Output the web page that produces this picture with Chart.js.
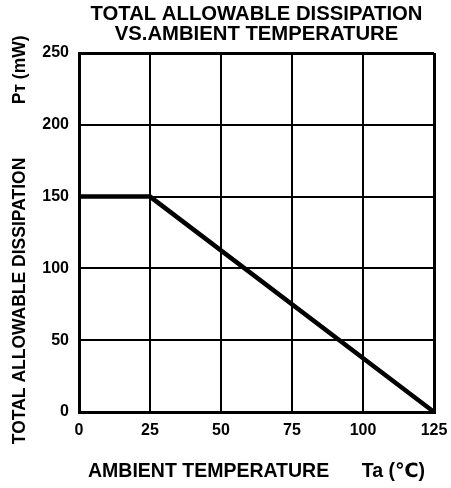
<!DOCTYPE html>
<html>
<head>
<meta charset="utf-8">
<script src="https://cdn.jsdelivr.net/npm/chart.js@4.4.1/dist/chart.umd.min.js"></script>
<style>
    html, body { margin: 0; padding: 0; background: #fff; }
    canvas { display: block; }
</style>
</head>
<body>
<canvas id="dissipationChart" width="451" height="488"></canvas>
<script>
// Derating curve: total allowable dissipation vs ambient temperature
const temperatures = [0, 25, 125];
const dissipation = [150, 150, 0];
const xTickValues = [0, 25, 50, 75, 100, 125];
const yTickValues = [0, 50, 100, 150, 200, 250];

const titleLines = ['TOTAL ALLOWABLE DISSIPATION', 'VS.AMBIENT TEMPERATURE'];
const xTitle = 'AMBIENT TEMPERATURE      Ta (\u2103)';
// trailing spaces nudge the rotated label a little lower, as in the original
const yTitle = 'TOTAL ALLOWABLE DISSIPATION           P\u1D1B (mW)   ';

const FONT = '"Liberation Sans", Arial, "DejaVu Sans", sans-serif';

// thicker frame lines on the outer edges of the plot
function frameWidth(ctx) {
    const last = ctx.scale.ticks.length - 1;
    return (ctx.index === 0 || ctx.index === last) ? 3 : 2;
}

document.addEventListener('DOMContentLoaded', function() {
    const ctx = document.getElementById('dissipationChart');

    new Chart(ctx, {
        type: 'line',
        data: {
            datasets: [{
                data: temperatures.map((t, i) => ({ x: t, y: dissipation[i] })),
                borderColor: '#000',
                borderWidth: 4.5,
                pointRadius: 0,
                tension: 0,
                fill: false,
                clip: false
            }]
        },
        options: {
            responsive: false,
            devicePixelRatio: 1,
            animation: false,
            layout: {
                padding: { left: 0, right: 17, top: 0, bottom: 0 }
            },
            plugins: {
                legend: { display: false },
                tooltip: { enabled: false },
                title: { display: false }
            },
            scales: {
                x: {
                    type: 'linear',
                    position: 'bottom',
                    min: 0,
                    max: 125,
                    afterBuildTicks: scale => {
                        scale.ticks = xTickValues.map(v => ({ value: v }));
                    },
                    afterFit: scale => {
                        scale.height = 76;
                        scale.paddingLeft = 0;
                        scale.paddingRight = 0;
                    },
                    ticks: {
                        color: '#000',
                        padding: 9,
                        maxRotation: 0,
                        font: { family: FONT, size: 16, weight: 'bold' }
                    },
                    grid: {
                        color: '#000',
                        lineWidth: frameWidth,
                        drawTicks: false
                    },
                    border: { display: true, color: '#000', width: 3 },
                    title: {
                        display: true,
                        text: xTitle,
                        color: '#000',
                        padding: { top: 0, bottom: 4.6 },
                        font: { family: FONT, size: 19.5, weight: 'bold', lineHeight: 1.2 }
                    }
                },
                xTop: {
                    type: 'linear',
                    position: 'top',
                    min: 0,
                    max: 125,
                    afterFit: scale => { scale.height = 53; },
                    ticks: { display: false },
                    grid: { display: false },
                    border: { display: false },
                    title: {
                        display: true,
                        text: titleLines,
                        color: '#000',
                        padding: { top: 4, bottom: 0 },
                        font: { family: FONT, size: 20.3, weight: 'bold', lineHeight: 1.0 }
                    }
                },
                y: {
                    type: 'linear',
                    position: 'left',
                    min: 0,
                    max: 250,
                    afterBuildTicks: scale => {
                        scale.ticks = yTickValues.map(v => ({ value: v }));
                    },
                    afterFit: scale => { scale.width = 79; },
                    ticks: {
                        color: '#000',
                        padding: 10,
                        font: { family: FONT, size: 16, weight: 'bold' }
                    },
                    grid: {
                        color: '#000',
                        lineWidth: frameWidth,
                        drawTicks: false
                    },
                    border: { display: true, color: '#000', width: 3 },
                    title: {
                        display: true,
                        text: yTitle,
                        color: '#000',
                        padding: { top: 9.5, bottom: 0 },
                        font: { family: FONT, size: 17.5, weight: 'bold', lineHeight: 1.2 }
                    }
                }
            }
        }
    });
});
</script>
</body>
</html>
